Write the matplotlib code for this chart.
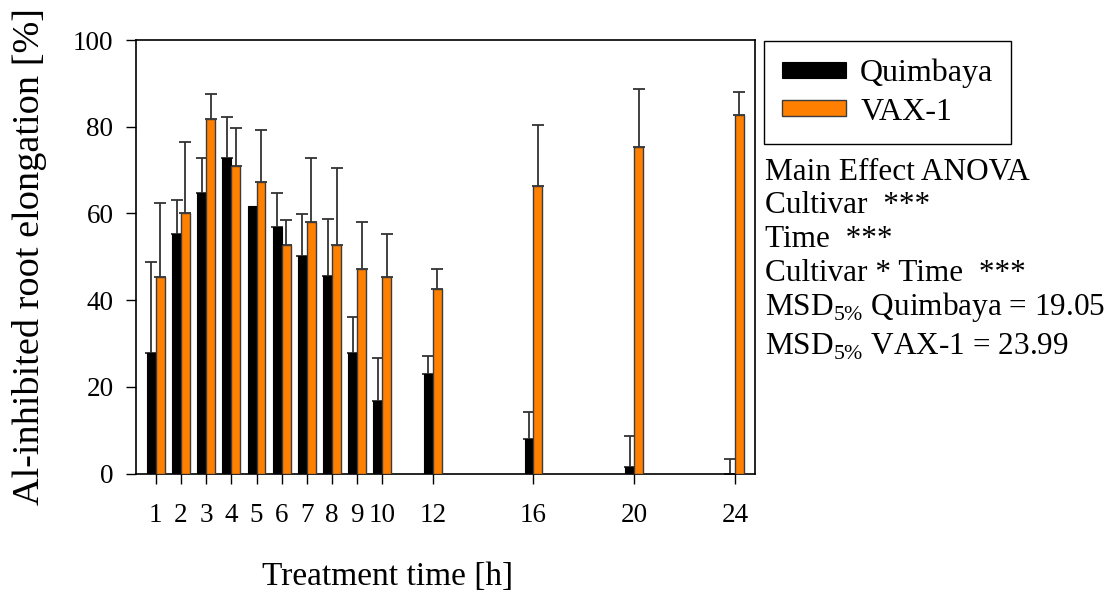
import numpy as np
import matplotlib
matplotlib.use("Agg")
import matplotlib.pyplot as plt

plt.rcParams['font.family'] = ['Liberation Serif', 'DejaVu Serif']
plt.rcParams['mathtext.fontset'] = 'custom'
plt.rcParams['mathtext.rm'] = 'Liberation Serif'

# treatment time [h] and mean / upper error of Al-inhibited elongation [%]
hours = [1, 2, 3, 4, 5, 6, 7, 8, 9, 10, 12, 16, 20, 24]
quimbaya = [27.9, 55.2, 64.8, 72.9, 61.7, 56.8, 50.3, 45.6, 27.9, 16.8, 22.9, 7.9, 1.5, 0.0]
quimbaya_err = [20.9, 7.8, 7.9, 9.4, 0.0, 8.0, 9.6, 13.1, 8.2, 9.8, 4.2, 6.4, 7.3, 3.5]
vax1 = [45.4, 60.0, 81.8, 70.9, 67.3, 52.7, 58.1, 52.7, 47.2, 45.4, 42.6, 66.4, 75.4, 82.8]
vax1_err = [17.0, 16.4, 5.7, 8.9, 12.0, 5.7, 14.6, 17.9, 10.8, 9.8, 4.5, 14.0, 13.4, 5.3]

stats_lines = ["Main Effect ANOVA",
               "Cultivar  ***",
               "Time  ***",
               "Cultivar * Time  ***",
               r"MSD$_{\mathrm{5\%}}$ Quimbaya = 19.05",
               r"MSD$_{\mathrm{5\%}}$ VAX-1 = 23.99"]
stats_baselines = [180, 213, 247, 281, 315, 355]  # pixel rows

W, H = 1113, 594
fig = plt.figure(figsize=(W / 100, H / 100), dpi=100)
ax = fig.add_axes([135.7 / W, 1 - 473.7 / H, (755 - 135.7) / W, (473.7 - 40) / H])

x = np.array(hours, dtype=float)
q = np.array(quimbaya)
qe = np.array(quimbaya_err)
v = np.array(vax1)
ve = np.array(vax1_err)
width = 0.355
edge = '#3c3c3c'
orange = '#ff8000'

ax.bar(x - width / 2, q, width, color='black', edgecolor='black', lw=0.8,
       label='Quimbaya', zorder=3)
ax.bar(x + width / 2, v, width, color=orange, edgecolor=edge, lw=1.0,
       label='VAX-1', zorder=3)

ekw = dict(fmt='none', ecolor='#333333', elinewidth=1.3, capsize=4.4,
           capthick=1.3, zorder=2)
m = qe > 0
ax.errorbar(x[m] - width / 2, q[m], yerr=[np.zeros(m.sum()), qe[m]], **ekw)
ax.errorbar(x + width / 2, v, yerr=[np.zeros(len(v)), ve], **ekw)

ax.set_xlim(0.2, 24.8)
ax.set_ylim(0, 100)
ax.set_xticks(hours)
ax.set_xticklabels([str(h) for h in hours])
ax.set_yticks([0, 20, 40, 60, 80, 100])
ax.tick_params(direction='out', length=7, width=1.0, labelsize=19.5)
ax.tick_params(axis='x', pad=14)
ax.tick_params(axis='y', pad=9)
for s in ax.spines.values():
    s.set_linewidth(1.2)

ax.set_ylabel('Al-inhibited root elongation [%]', fontsize=27.5)
ax.yaxis.set_label_coords(-0.144, 0.5)
ax.set_xlabel('Treatment time [h]', fontsize=24, va='baseline')
ax.xaxis.set_label_coords(0.4066, (473.7 - 585) / (473.7 - 40))

leg = fig.legend(loc='upper left', bbox_to_anchor=(764.3 / W, 1 - 41 / H),
                 borderaxespad=0, fontsize=23, frameon=True, fancybox=False,
                 edgecolor='black', framealpha=1, borderpad=0.55,
                 labelspacing=0.3, handlelength=2.0, handleheight=0.4,
                 handletextpad=0.45)
leg.get_frame().set_linewidth(1.0)

for line, b in zip(stats_lines, stats_baselines):
    fig.text(765 / W, 1 - b / H, line, fontsize=22.5, va='baseline', ha='left')

fig.savefig('out.png', dpi=100)
